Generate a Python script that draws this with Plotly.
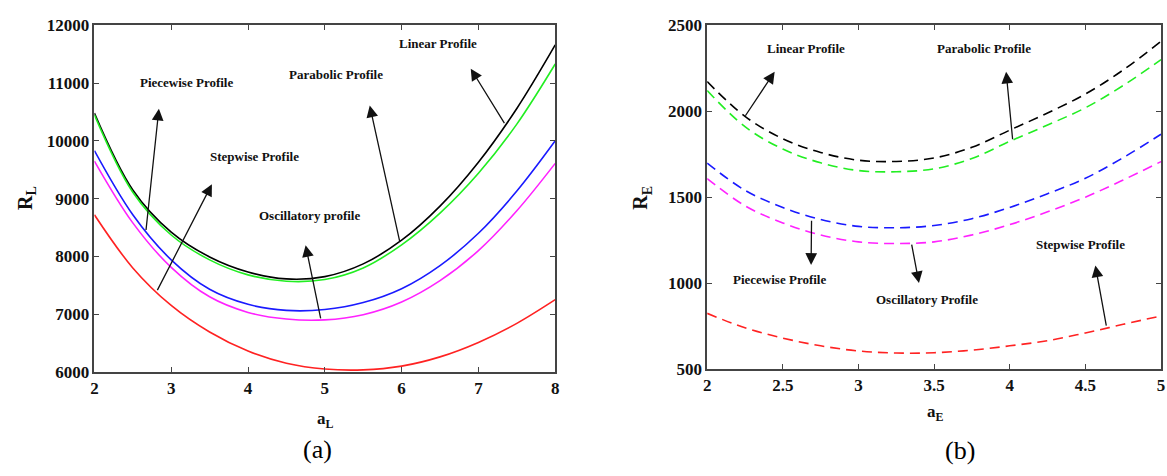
import plotly.graph_objects as go

# ---- panel (a): R_L versus a_L ----
a_L = [2.0, 2.5, 3.0, 3.5, 4.0, 4.5, 5.0, 5.5, 6.0, 6.5, 7.0, 7.5, 8.0]
RL_linear = [10480, 9150, 8420, 7990, 7730, 7610, 7650, 7870, 8280, 8870, 9630, 10560, 11660]
RL_parabolic = [10450, 9110, 8370, 7940, 7680, 7570, 7600, 7800, 8200, 8750, 9440, 10290, 11330]
RL_piecewise = [9830, 8720, 7940, 7430, 7170, 7065, 7080, 7200, 7440, 7840, 8400, 9130, 10000]
RL_oscillatory = [9650, 8580, 7810, 7300, 7030, 6915, 6900, 6990, 7210, 7580, 8100, 8790, 9610]
RL_stepwise = [8720, 7800, 7150, 6690, 6360, 6150, 6050, 6035, 6100, 6260, 6510, 6840, 7250]

# ---- panel (b): R_E versus a_E ----
a_E = [2.0, 2.25, 2.5, 2.75, 3.0, 3.25, 3.5, 3.75, 4.0, 4.25, 4.5, 4.75, 5.0]
RE_linear = [2173, 1970, 1840, 1760, 1715, 1708, 1728, 1790, 1890, 1990, 2100, 2240, 2407]
RE_parabolic = [2120, 1910, 1780, 1700, 1655, 1648, 1665, 1725, 1825, 1920, 2020, 2150, 2300]
RE_piecewise = [1698, 1540, 1440, 1370, 1330, 1322, 1335, 1375, 1440, 1520, 1610, 1730, 1866]
RE_oscillatory = [1608, 1450, 1350, 1280, 1240, 1230, 1240, 1280, 1340, 1415, 1500, 1600, 1707]
RE_stepwise = [824, 740, 680, 635, 605, 593, 595, 610, 635, 665, 710, 760, 809]

ticks_aL = [2, 3, 4, 5, 6, 7, 8]
ticks_RL = [6000, 7000, 8000, 9000, 10000, 11000, 12000]
ticks_aE = [2, 2.5, 3, 3.5, 4, 4.5, 5]
ticks_RE = [500, 1000, 1500, 2000, 2500]

colors = {"linear": "#000000", "parabolic": "#22ee22", "piecewise": "#1a1aff",
          "oscillatory": "#ff22ff", "stepwise": "#ff2222"}

SERIF = "Liberation Serif"

fig = go.Figure()

series_a = [("linear", RL_linear), ("parabolic", RL_parabolic), ("piecewise", RL_piecewise),
            ("oscillatory", RL_oscillatory), ("stepwise", RL_stepwise)]
for key, vals in series_a:
    fig.add_trace(go.Scatter(x=a_L, y=vals, mode="lines", xaxis="x", yaxis="y",
                             line=dict(color=colors[key], width=1.6, shape="spline", smoothing=1.0),
                             showlegend=False, hoverinfo="skip"))

series_b = [("linear", RE_linear), ("parabolic", RE_parabolic), ("piecewise", RE_piecewise),
            ("oscillatory", RE_oscillatory), ("stepwise", RE_stepwise)]
for key, vals in series_b:
    fig.add_trace(go.Scatter(x=a_E, y=vals, mode="lines", xaxis="x2", yaxis="y2",
                             line=dict(color=colors[key], width=1.6, dash="10px,6px",
                                       shape="spline", smoothing=1.0),
                             showlegend=False, hoverinfo="skip"))

axis_common = dict(showline=True, linecolor="#444444", linewidth=1.5, mirror="ticks",
                   ticks="inside", ticklen=5, tickcolor="#444444", tickwidth=1.2,
                   showgrid=False, zeroline=False,
                   tickfont=dict(family=SERIF, size=17, color="#111111"))

fig.update_layout(
    width=1167, height=476,
    margin=dict(l=0, r=0, t=0, b=0),
    paper_bgcolor="white", plot_bgcolor="white",
    font=dict(family=SERIF),
    xaxis=dict(domain=[0.078, 0.4756], range=[2, 8], tickvals=ticks_aL,
               ticktext=[f"<b>{v}</b>" for v in ticks_aL], anchor="y", **axis_common),
    yaxis=dict(domain=[0.2059, 0.9643], range=[6000, 12000], tickvals=ticks_RL,
               ticktext=[f"<b>{v}</b>" for v in ticks_RL], anchor="x", **axis_common),
    xaxis2=dict(domain=[0.6067, 0.9983], range=[2, 5], tickvals=ticks_aE,
                ticktext=[f"<b>{v}</b>" for v in ticks_aE], anchor="y2", **axis_common),
    yaxis2=dict(domain=[0.2122, 0.9643], range=[500, 2500], tickvals=ticks_RE,
                ticktext=[f"<b>{v}</b>" for v in ticks_RE], anchor="x2", **axis_common),
)

label_font = dict(family=SERIF, size=13, color="#111111")
ann = []

def add_label(text, x, y, xr, yr):
    ann.append(dict(text=f"<b>{text}</b>", x=x, y=y, xref=xr, yref=yr, showarrow=False,
                    font=label_font, xanchor="center", yanchor="middle"))

def add_arrow(x_tail, y_tail, x_head, y_head, xr, yr):
    ann.append(dict(text="", x=x_head, y=y_head, ax=x_tail, ay=y_tail, xref=xr, yref=yr,
                    axref=xr, ayref=yr, showarrow=True, arrowhead=2, arrowsize=1.8,
                    arrowwidth=1.3, arrowcolor="#111111", standoff=0))

# panel (a) labels and arrows
add_label("Linear Profile", 6.47, 11683, "x", "y")
add_label("Parabolic Profile", 5.15, 11150, "x", "y")
add_label("Piecewise Profile", 3.2, 11017, "x", "y")
add_label("Stepwise Profile", 4.08, 9733, "x", "y")
add_label("Oscillatory profile", 4.8, 8706, "x", "y")
add_arrow(7.35, 10280, 6.9, 11250, "x", "y")
add_arrow(5.98, 8230, 5.585, 10611, "x", "y")
add_arrow(2.67, 8430, 2.84, 10556, "x", "y")
add_arrow(2.81, 7389, 3.53, 9250, "x", "y")
add_arrow(4.95, 6900, 4.75, 8194, "x", "y")

# panel (b) labels and arrows
add_label("Linear Profile", 2.65, 2366, "x2", "y2")
add_label("Parabolic Profile", 3.83, 2366, "x2", "y2")
add_label("Piecewise Profile", 2.48, 1019, "x2", "y2")
add_label("Oscillatory Profile", 3.45, 907, "x2", "y2")
add_label("Stepwise Profile", 4.47, 1222, "x2", "y2")
add_arrow(2.246, 1965, 2.446, 2230, "x2", "y2")
add_arrow(4.02, 1828, 3.976, 2230, "x2", "y2")
add_arrow(2.69, 1371, 2.687, 1106, "x2", "y2")
add_arrow(3.35, 1233, 3.40, 1000, "x2", "y2")
add_arrow(4.64, 744, 4.566, 1102, "x2", "y2")

# axis titles and panel captions
title_font = dict(family=SERIF, size=20, color="#111111")
ann.append(dict(text="<b>R<sub>L</sub></b>", x=22 / 1167, y=1 - 197 / 476, xref="paper", yref="paper",
                showarrow=False, textangle=-90, font=title_font, xanchor="center", yanchor="middle"))
ann.append(dict(text="<b>a<sub>L</sub></b>", x=324 / 1167, y=1 - 428 / 476, xref="paper", yref="paper",
                showarrow=False, font=dict(family=SERIF, size=17, color="#111111"),
                xanchor="center", yanchor="middle"))
ann.append(dict(text="<b>R<sub>E</sub></b>", x=642 / 1167, y=1 - 197 / 476, xref="paper", yref="paper",
                showarrow=False, textangle=-90, font=title_font, xanchor="center", yanchor="middle"))
ann.append(dict(text="<b>a<sub>E</sub></b>", x=938 / 1167, y=1 - 421 / 476, xref="paper", yref="paper",
                showarrow=False, font=dict(family=SERIF, size=17, color="#111111"),
                xanchor="center", yanchor="middle"))
cap_font = dict(family=SERIF, size=26, color="#000000")
ann.append(dict(text="(a)", x=316 / 1167, y=1 - 459 / 476, xref="paper", yref="paper",
                showarrow=False, font=cap_font, xanchor="center", yanchor="middle"))
ann.append(dict(text="(b)", x=963 / 1167, y=1 - 460 / 476, xref="paper", yref="paper",
                showarrow=False, font=cap_font, xanchor="center", yanchor="middle"))

fig.update_layout(annotations=ann)
fig.write_html("out.html")
